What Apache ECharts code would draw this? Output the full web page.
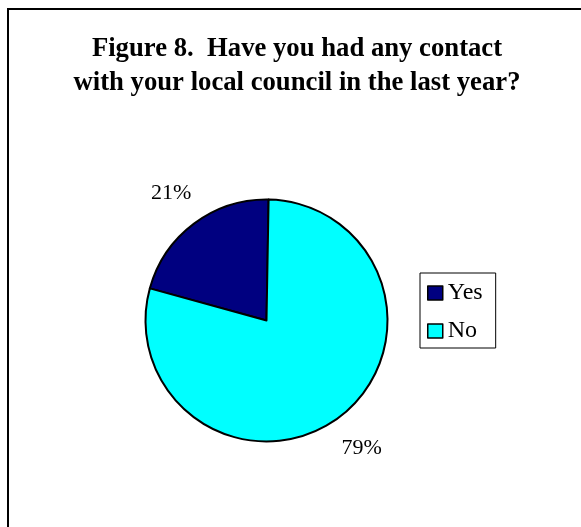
<!DOCTYPE html>
<html>
<head>
<meta charset="utf-8">
<script src="https://cdn.jsdelivr.net/npm/echarts@6/dist/echarts.min.js"></script>
<style>
  html, body { margin: 0; padding: 0; background: #fff; }
  #chart { width: 581px; height: 527px; }
</style>
</head>
<body>
<div id="chart"></div>
<script>
// Survey answers and their shares (percent)
const categories = ['Yes', 'No'];
const shares = [21, 79];
const sliceColors = ['#000080', '#00FFFF'];

const titleText = 'Figure 8.  Have you had any contact\nwith your local council in the last year?';
const serif = '"Liberation Serif", "Times New Roman", serif';

const pieData = categories.map((name, i) => ({
  name: name,
  value: shares[i],
  itemStyle: { color: sliceColors[i] }
}));

const center = [266.5, 320.5];
const chart = echarts.init(document.getElementById('chart'), null, { renderer: 'canvas' });

chart.setOption({
  animation: false,
  backgroundColor: '#ffffff',
  graphic: [{
    type: 'rect',
    shape: { x: 8, y: 9, width: 800, height: 800 },
    style: { fill: 'none', stroke: '#000', lineWidth: 2 },
    silent: true,
    z: -1
  }],
  title: {
    text: titleText,
    left: 292,
    top: 27,
    textAlign: 'center',
    textStyle: {
      fontFamily: serif,
      fontWeight: 'bold',
      fontSize: 26.7,
      lineHeight: 34,
      color: '#000'
    }
  },
  legend: {
    data: categories,
    orient: 'vertical',
    left: 420,
    top: 273,
    padding: [8, 13, 5, 7],
    itemWidth: 15,
    itemHeight: 14,
    itemGap: 14,
    borderColor: '#000',
    borderWidth: 1,
    icon: 'rect',
    itemStyle: { borderColor: '#000', borderWidth: 1.5 },
    textStyle: { fontFamily: serif, fontSize: 24, lineHeight: 22, color: '#000' }
  },
  series: [
    {
      // the pie itself
      type: 'pie',
      center: center,
      radius: [0, 121],
      startAngle: 89,
      clockwise: false,
      data: pieData,
      itemStyle: { borderColor: '#000', borderWidth: 2 },
      label: { show: false },
      labelLine: { show: false },
      emphasis: { disabled: true }
    },
    {
      // transparent ring that carries the percentage labels outside the pie
      type: 'pie',
      center: center,
      radius: [151, 161],
      startAngle: 89,
      clockwise: false,
      silent: true,
      data: pieData.map(d => ({ name: d.name, value: d.value })),
      itemStyle: { color: 'rgba(0,0,0,0)', borderWidth: 0 },
      label: {
        show: true,
        position: 'inside',
        formatter: p => p.value + '%',
        fontFamily: serif,
        fontSize: 22,
        color: '#000'
      },
      labelLine: { show: false },
      emphasis: { disabled: true }
    }
  ]
});
</script>
</body>
</html>
